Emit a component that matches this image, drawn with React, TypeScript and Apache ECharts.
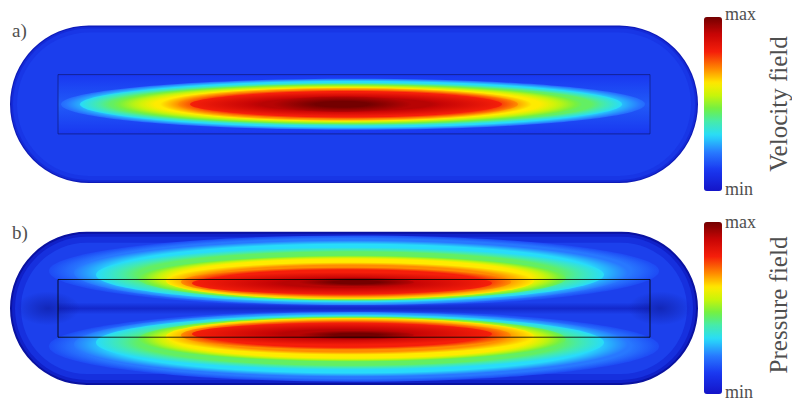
import React, { useEffect, useRef } from "react";
import * as echarts from "echarts";

// ---- physical geometry of the domain (units ~ µm) ----
const DOMAIN_HALF_LENGTH = 344;
const DOMAIN_HALF_WIDTH = 77;
const CHANNEL_HALF_LENGTH = 296;
const CHANNEL_HALF_WIDTH = 29;

// ---- velocity field (panel a): contour levels ----
const velocityLevels = [0.2, 0.32, 0.45, 0.62, 0.7, 0.8, 0.92, 1.0];
const velocityCenterX = [-1, -3, -6.5, -8, -6, -8, -12, -9];
const velocityHalfLength = [292, 271, 235, 186, 170, 156, 70, 25];
const velocityHalfWidth = [25, 21.5, 19.5, 16.5, 14.5, 11.7, 7.5, 3];

// ---- pressure field (panel b): two lobes, contour levels ----
const pressureLobeOffset = [26.3, -26.7];
const pressureLevels = [0.15, 0.22, 0.32, 0.45, 0.62, 0.7, 0.8, 0.92, 1.0];
const pressureCenterX = [0, -3, -4, -2, -4, -8, -12, 2, 0];
const pressureHalfLength = [305, 277, 254, 214, 184, 165, 150, 58, 20];
const pressureOuterReach = [47, 42, 35, 27, 20, 15, 10, 4.5, 2];
const pressureInnerReach = [24.5, 23, 20, 18.5, 17, 14.5, 12, 4.5, 2];

// ---- texts ----
const panelLabels = ["a)", "b)"];
const fieldTitles = ["Velocity field", "Pressure field"];
const colorbarEnds = ["max", "min"];

// ---- colormap (style) ----
const CMAP: [number, number[]][] = [
  [0.0, [20, 20, 200]],
  [0.12, [25, 55, 240]],
  [0.22, [40, 120, 255]],
  [0.32, [40, 220, 250]],
  [0.4, [70, 235, 170]],
  [0.47, [110, 240, 70]],
  [0.55, [200, 245, 10]],
  [0.62, [255, 235, 0]],
  [0.7, [255, 140, 0]],
  [0.8, [245, 30, 10]],
  [0.9, [200, 5, 5]],
  [1.0, [115, 0, 0]],
];
function cmap(v: number): string {
  const t = Math.max(0, Math.min(1, v));
  for (let i = 0; i < CMAP.length - 1; i++) {
    const [a, ca] = CMAP[i];
    const [b, cb] = CMAP[i + 1];
    if (t <= b) {
      const f = (t - a) / (b - a);
      const c = ca.map((x, k) => Math.round(x + (cb[k] - x) * f));
      return `rgb(${c[0]},${c[1]},${c[2]})`;
    }
  }
  const c = CMAP[CMAP.length - 1][1];
  return `rgb(${c[0]},${c[1]},${c[2]})`;
}

function radialFill(levels: number[], i: number, ratio: number) {
  const outer = levels[i];
  const inner = i < levels.length - 1 ? levels[i + 1] : levels[i];
  const stops: any[] = [{ offset: 0, color: cmap(inner) }];
  const N = 6;
  for (let k = 0; k <= N; k++) {
    stops.push({
      offset: ratio + ((1 - ratio) * k) / N,
      color: cmap(inner + ((outer - inner) * k) / N),
    });
  }
  return { type: "radial", x: 0.5, y: 0.5, r: 0.5, colorStops: stops, global: false };
}

type Shape = any;

function stadiumLayers(colors: string[], insets: number[]): Shape[] {
  return colors.map((c, i) => ({ kind: "stadium", inset: insets[i], color: c }));
}

function buildVelocity(): Shape[] {
  const shapes: Shape[] = stadiumLayers(
    ["rgb(14,28,185)", "rgb(20,42,215)", "rgb(24,54,230)", "rgb(27,62,237)"],
    [0, 1.2, 3, 7]
  );
  shapes.push({
    kind: "rect",
    x0: -CHANNEL_HALF_LENGTH,
    x1: CHANNEL_HALF_LENGTH,
    y0: -CHANNEL_HALF_WIDTH,
    y1: CHANNEL_HALF_WIDTH,
    fill: {
      type: "linear", x: 0, y: 0, x2: 0, y2: 1,
      colorStops: [
        { offset: 0, color: cmap(0.12) },
        { offset: 0.5, color: cmap(0.175) },
        { offset: 1, color: cmap(0.12) },
      ],
    },
    stroke: "rgba(15,25,120,0.7)",
  });
  const n = velocityLevels.length;
  for (let i = 0; i < n; i++) {
    const ratio =
      i < n - 1
        ? (velocityHalfLength[i + 1] / velocityHalfLength[i] +
            velocityHalfWidth[i + 1] / velocityHalfWidth[i]) / 2
        : 0;
    shapes.push({
      kind: "ellipse",
      cx: velocityCenterX[i],
      cy: 0,
      rx: velocityHalfLength[i],
      ry: velocityHalfWidth[i],
      fill: radialFill(velocityLevels, i, ratio),
    });
  }
  return shapes;
}

function lobeEllipse(o: number, i: number) {
  const s = Math.sign(o);
  const ho = pressureOuterReach[i];
  const hi = pressureInnerReach[i];
  return { cx: pressureCenterX[i], cy: o + (s * (ho - hi)) / 2, rx: pressureHalfLength[i], ry: (ho + hi) / 2 };
}

function buildPressure(): Shape[] {
  const shapes: Shape[] = stadiumLayers(
    ["rgb(10,18,160)", "rgb(16,32,200)", "rgb(22,48,222)", "rgb(28,64,236)"],
    [0, 2, 5, 11]
  );
  const n = pressureLevels.length;
  const lobeShape = (o: number, i: number) => {
    const e = lobeEllipse(o, i);
    let ratio = 0;
    if (i < n - 1) {
      const e2 = lobeEllipse(o, i + 1);
      ratio = (e2.rx / e.rx + e2.ry / e.ry) / 2;
    }
    return { kind: "ellipse", ...e, fill: radialFill(pressureLevels, i, ratio) };
  };
  pressureLobeOffset.forEach((o) => shapes.push(lobeShape(o, 0)));
  // centreline minimum band and the dark wedges in the caps
  shapes.push({
    kind: "rect",
    x0: -CHANNEL_HALF_LENGTH,
    x1: CHANNEL_HALF_LENGTH,
    y0: -6,
    y1: 6,
    fill: {
      type: "linear", x: 0, y: 0, x2: 0, y2: 1,
      colorStops: [
        { offset: 0, color: "rgba(15,30,190,0)" },
        { offset: 0.5, color: "rgba(15,30,190,0.7)" },
        { offset: 1, color: "rgba(15,30,190,0)" },
      ],
    },
  });
  [-1, 1].forEach((side) =>
    shapes.push({
      kind: "ellipse",
      cx: side * 306,
      cy: 0,
      rx: 32,
      ry: 17,
      fill: {
        type: "radial", x: 0.5, y: 0.5, r: 0.5,
        colorStops: [
          { offset: 0, color: "rgba(12,22,150,0.6)" },
          { offset: 1, color: "rgba(12,22,150,0)" },
        ],
      },
    })
  );
  pressureLobeOffset.forEach((o) => {
    for (let i = 1; i < n; i++) shapes.push(lobeShape(o, i));
  });
  shapes.push({
    kind: "rect",
    x0: -CHANNEL_HALF_LENGTH,
    x1: CHANNEL_HALF_LENGTH,
    y0: -CHANNEL_HALF_WIDTH,
    y1: CHANNEL_HALF_WIDTH,
    fill: "none",
    stroke: "rgba(0,0,0,0.8)",
  });
  return shapes;
}

function makeRenderItem(shapes: Shape[]) {
  return (params: any, api: any) => {
    const s = shapes[params.dataIndex];
    if (s.kind === "stadium") {
      const p0 = api.coord([-DOMAIN_HALF_LENGTH, DOMAIN_HALF_WIDTH]);
      const p1 = api.coord([DOMAIN_HALF_LENGTH, -DOMAIN_HALF_WIDTH]);
      const x = p0[0] + s.inset;
      const y = p0[1] + s.inset;
      const w = p1[0] - p0[0] - 2 * s.inset;
      const h = p1[1] - p0[1] - 2 * s.inset;
      return { type: "rect", shape: { x, y, width: w, height: h, r: h / 2 }, style: { fill: s.color } };
    }
    if (s.kind === "ellipse") {
      const c = api.coord([s.cx, s.cy]);
      const sz = api.size([s.rx, s.ry]);
      return { type: "ellipse", shape: { cx: c[0], cy: c[1], rx: sz[0], ry: sz[1] }, style: { fill: s.fill } };
    }
    const p0 = api.coord([s.x0, s.y1]);
    const p1 = api.coord([s.x1, s.y0]);
    return {
      type: "rect",
      shape: { x: p0[0], y: p0[1], width: p1[0] - p0[0], height: p1[1] - p0[1] },
      style: { fill: s.fill, stroke: s.stroke || null, lineWidth: 1 },
    };
  };
}

const TEXT_COLOR = "#4f4f4f";
const SERIF = "Liberation Serif";

function text(x: number, y: number, t: string, size: number, align: string, rotation = 0) {
  return {
    type: "text",
    x,
    y,
    rotation,
    silent: true,
    style: {
      text: t,
      fill: TEXT_COLOR,
      fontFamily: SERIF,
      fontSize: size,
      textAlign: align,
      textVerticalAlign: "middle",
      align,
      verticalAlign: "middle",
    },
  };
}

export default function App() {
  const ref = useRef<HTMLDivElement>(null);
  useEffect(() => {
    if (!ref.current) return;
    const chart = echarts.init(ref.current, undefined, { renderer: "svg" });
    const velShapes = buildVelocity();
    const presShapes = buildPressure();
    const cbColors = Array.from({ length: 41 }, (_, k) => cmap(k / 40));
    const axisX = (gi: number) => ({
      type: "value", gridIndex: gi, min: -DOMAIN_HALF_LENGTH, max: DOMAIN_HALF_LENGTH, show: false,
    });
    const axisY = (gi: number) => ({
      type: "value", gridIndex: gi, min: -DOMAIN_HALF_WIDTH, max: DOMAIN_HALF_WIDTH, show: false,
    });
    const colorbar = (top: number, h: number) => ({
      type: "continuous",
      min: 0,
      max: 1,
      calculable: false,
      orient: "vertical",
      left: 704,
      top,
      itemWidth: 18,
      itemHeight: h,
      padding: 0,
      seriesIndex: [],
      inRange: { color: cbColors },
    });
    chart.setOption({
      animation: false,
      backgroundColor: "#ffffff",
      grid: [
        { left: 10, top: 25.5, width: 688, height: 157.5 },
        { left: 10, top: 231.7, width: 688, height: 153.3 },
      ],
      xAxis: [axisX(0), axisX(1)],
      yAxis: [axisY(0), axisY(1)],
      visualMap: [colorbar(17, 174), colorbar(222, 172)],
      series: [
        {
          type: "custom",
          xAxisIndex: 0,
          yAxisIndex: 0,
          silent: true,
          clip: false,
          renderItem: makeRenderItem(velShapes),
          data: velShapes.map((_, i) => [0, 0, i]),
        },
        {
          type: "custom",
          xAxisIndex: 1,
          yAxisIndex: 1,
          silent: true,
          clip: false,
          renderItem: makeRenderItem(presShapes),
          data: presShapes.map((_, i) => [0, 0, i]),
        },
      ],
      graphic: [
        text(12, 30, panelLabels[0], 19, "left"),
        text(12, 232, panelLabels[1], 19, "left"),
        text(725, 13.5, colorbarEnds[0], 18, "left"),
        text(725, 188.5, colorbarEnds[1], 18, "left"),
        text(725, 221.5, colorbarEnds[0], 18, "left"),
        text(725, 391.5, colorbarEnds[1], 18, "left"),
        text(778, 104, fieldTitles[0], 25, "center", Math.PI / 2),
        text(778, 305, fieldTitles[1], 25, "center", Math.PI / 2),
      ],
    });
    return () => chart.dispose();
  }, []);
  return (
    <div
      ref={ref}
      style={{ position: "absolute", left: 0, top: 0, width: 792, height: 401, background: "#fff" }}
    />
  );
}
